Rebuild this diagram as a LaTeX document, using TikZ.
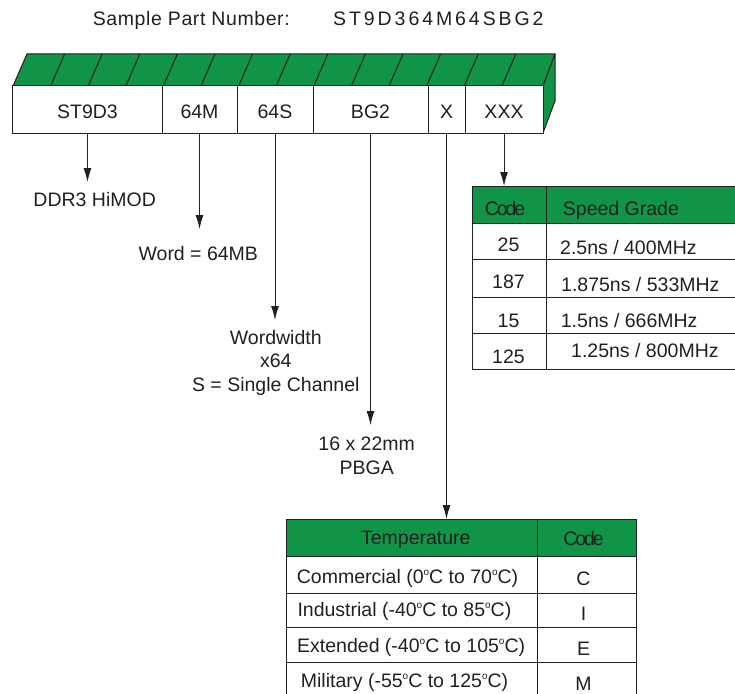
\documentclass[tikz,border=0pt]{standalone}
\usepackage{graphicx}
\usepackage{fontspec}
\setmainfont{Liberation Sans}
\usetikzlibrary{arrows.meta,calc}
\definecolor{grn}{RGB}{16,148,72}
\definecolor{ink}{RGB}{35,31,32}
\newcommand{\dg}{\raisebox{8bp}{\fontsize{10bp}{10bp}\selectfont o}}
\newcommand{\cde}{{\addfontfeature{LetterSpace=-11}Code}}
\begin{document}
\begin{tikzpicture}[x=1bp,y=-1bp,
  every node/.style={font=\fontsize{19.5bp}{23.5bp}\selectfont, text=ink, inner sep=0pt},
  cell/.style={draw=ink, line width=1bp, fill=white, minimum height=47bp, text height=17.6bp, text depth=0pt},
  lbl/.style={align=center},
  arr/.style={draw=ink, line width=1bp, -{Latex[length=14bp,width=8bp]}},
  ln/.style={draw=ink, line width=1bp},
  face/.style={fill=grn, draw=ink, line width=1bp, line join=round},
  tframe/.style={draw=ink, line width=1bp, anchor=north west},
  cond/.style={anchor=base},
]
\useasboundingbox (0,0) rectangle (735,694);

% title
\node[anchor=base west] (title) at (92.7,26) {\addfontfeature{LetterSpace=3}Sample Part Number:};
\node[anchor=base west] (pn) at (333,26) {\addfontfeature{LetterSpace=15}ST9D364M64SBG2};

% 3D bar
\path[face] (13,86) -- (27,54) -- (555,54) -- (543,86) -- cycle;
\path[face] (543,86) -- (555,54) -- (555,101) -- (543,133) -- cycle;
\foreach \k in {1,...,13} \draw[ln] ({13+37.6*\k},86) -- ({27+37.6*\k},54);

\node[cell, minimum width=149bp] (c1) at (87.5,109.5) {ST9D3};
\node[cell, minimum width=75bp] (c2) at (199.5,109.5) {64M};
\node[cell, minimum width=76bp] (c3) at (275,109.5) {64S};
\node[cell, minimum width=115bp] (c4) at (370.5,109.5) {BG2};
\node[cell, minimum width=37bp] (c5) at (446.5,109.5) {X};
\node[cell, minimum width=78bp] (c6) at (504,109.5) {XXX};

% labels
\node[anchor=base] (t1) at (94.7,206.7) {DDR3 HiMOD};
\node[anchor=base] (t2) at (198.3,260) {Word = 64MB};
\node[lbl, anchor=north] (t3) at (275.8,330) {Wordwidth\\x64\\S = Single Channel};
\node[lbl, anchor=north] (t4) at (366.7,436.7) {16 x 22mm\\PBGA};

\coordinate (e1) at (0,182);
\coordinate (e2) at (0,229);
\coordinate (e3) at (0,320);
\coordinate (e4) at (0,425);

% speed table
\fill[grn] (472,186) rectangle (740,223);
\node[tframe, minimum width=268bp, minimum height=183bp] (st) at (472,186) {};
\draw[ln] (472,223) -- (740,223);
\draw[ln] (472,259) -- (740,259);
\draw[ln] (472,297) -- (740,297);
\draw[ln] (472,333) -- (740,333);
\draw[ln] (546,186) -- (546,369);
\node[cond] (sh1) at (505,215) {\cde};
\node[anchor=base west] (sh2) at (562.7,215) {Speed Grade};
\node[anchor=base] (sc1) at (508.5,251) {25};
\node[anchor=base] (sc2) at (508.5,288) {187};
\node[anchor=base] (sc3) at (508.5,327) {15};
\node[anchor=base] (sc4) at (508.5,363) {125};
\node[anchor=base west] (sv1) at (560,254) {2.5ns / 400MHz};
\node[anchor=base west] (sv2) at (561,291) {1.875ns / 533MHz};
\node[anchor=base west] (sv3) at (560.7,327) {1.5ns / 666MHz};
\node[anchor=base west] (sv4) at (571,357) {1.25ns / 800MHz};

% temperature table
\fill[grn] (286,519) rectangle (636,556);
\node[tframe, minimum width=350bp, minimum height=180bp] (tt) at (286,519) {};
\draw[ln] (286,556) -- (636,556);
\draw[ln] (286,593) -- (636,593);
\draw[ln] (286,627) -- (636,627);
\draw[ln] (286,662) -- (636,662);
\draw[ln] (537,519) -- (537,699);
\node[anchor=base] (th1) at (415.8,544) {Temperature};
\node[cond] (th2) at (583.5,545) {\cde};
\node[anchor=base west] (tr1) at (296.7,583) {Commercial (0\dg C to 70\dg C)};
\node[anchor=base west] (tr2) at (297.3,616) {Industrial (-40\dg C to 85\dg C)};
\node[anchor=base west] (tr3) at (297,652) {Extended (-40\dg C to 105\dg C)};
\node[anchor=base west] (tr4) at (300.7,687) {Military (-55\dg C to 125\dg C)};
\node[anchor=base] (tc1) at (583.5,585) {C};
\node[anchor=base] (tc2) at (583.5,620) {I};
\node[anchor=base] (tc3) at (583.5,655) {E};
\node[anchor=base] (tc4) at (583.5,690) {M};

% arrows
\draw[arr] (c1.south) -- (c1.south |- e1);
\draw[arr] (c2.south) -- (c2.south |- e2);
\draw[arr] (c3.south) -- (c3.south |- e3);
\draw[arr] (c4.south) -- (c4.south |- e4);
\draw[arr] (c5.south) -- (c5.south |- tt.north);
\draw[arr] (c6.south) -- (c6.south |- st.north);
\end{tikzpicture}
\end{document}
